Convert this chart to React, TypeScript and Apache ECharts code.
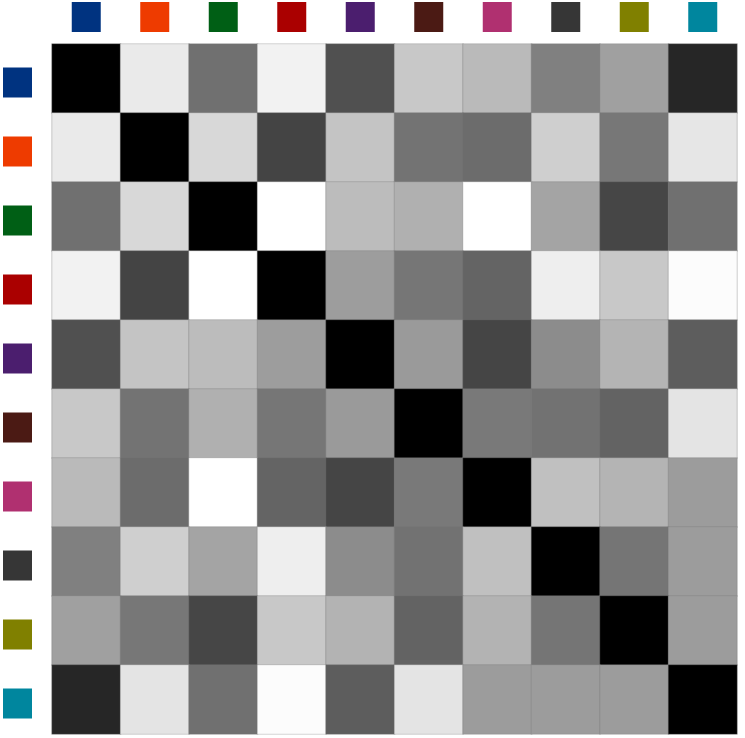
import React, { useEffect, useRef } from "react";
import * as echarts from "echarts";

// Category identifiers (shown as coloured squares)
const categories = [
  "#003380", "#EE3B00", "#005F15", "#AA0000", "#4B1E6E",
  "#4B1A14", "#B03070", "#363636", "#808000", "#00869E",
];

// Gray level of each cell (0 = black, 255 = white), row by row
const row0 = [0, 234, 112, 242, 80, 200, 186, 128, 160, 38];
const row1 = [234, 0, 216, 68, 196, 115, 108, 207, 119, 230];
const row2 = [112, 216, 0, 255, 188, 176, 255, 164, 70, 112];
const row3 = [242, 68, 255, 0, 157, 118, 100, 238, 200, 252];
const row4 = [80, 196, 188, 157, 0, 154, 69, 140, 180, 93];
const row5 = [200, 115, 176, 118, 154, 0, 121, 114, 99, 228];
const row6 = [186, 108, 255, 100, 69, 121, 0, 192, 180, 156];
const row7 = [128, 207, 164, 238, 140, 114, 192, 0, 117, 156];
const row8 = [160, 119, 70, 200, 179, 99, 179, 117, 0, 156];
const row9 = [38, 228, 112, 252, 93, 228, 156, 156, 156, 0];
const rows = [row0, row1, row2, row3, row4, row5, row6, row7, row8, row9];

export default function App() {
  const ref = useRef<HTMLDivElement>(null);
  useEffect(() => {
    if (!ref.current) return;
    const chart = echarts.init(ref.current, null, { renderer: "svg" });
    const data: number[][] = [];
    rows.forEach((r, y) => r.forEach((v, x) => data.push([x, y, v])));
    const rich: Record<string, any> = {};
    categories.forEach((c, i) => {
      rich["c" + i] = {
        backgroundColor: c,
        width: 29,
        height: 30,
        fontSize: 1,
        color: "transparent",
      };
    });
    const fmt = (val: string) => "{c" + categories.indexOf(val) + "| }";
    chart.setOption({
      animation: false,
      grid: { left: 51, top: 44, width: 686, height: 690 },
      xAxis: {
        type: "category",
        position: "top",
        data: categories,
        axisLine: { show: false },
        axisTick: { show: false },
        splitLine: { show: false },
        axisLabel: { margin: 12, formatter: fmt, rich },
      },
      yAxis: {
        type: "category",
        inverse: true,
        data: categories,
        axisLine: { show: false },
        axisTick: { show: false },
        splitLine: { show: false },
        axisLabel: { margin: 20, formatter: fmt, rich, padding: [8, 0, 0, 0] },
      },
      visualMap: {
        show: false,
        min: 0,
        max: 255,
        dimension: 2,
        inRange: { color: ["#000000", "#ffffff"] },
      },
      series: [
        {
          type: "heatmap",
          data,
          itemStyle: { borderColor: "rgba(120,120,120,0.3)", borderWidth: 1.2 },
          emphasis: { disabled: true },
        },
      ],
    });
    return () => chart.dispose();
  }, []);
  return (
    <div
      ref={ref}
      style={{ position: "fixed", left: 0, top: 0, width: 745, height: 738 }}
    />
  );
}
